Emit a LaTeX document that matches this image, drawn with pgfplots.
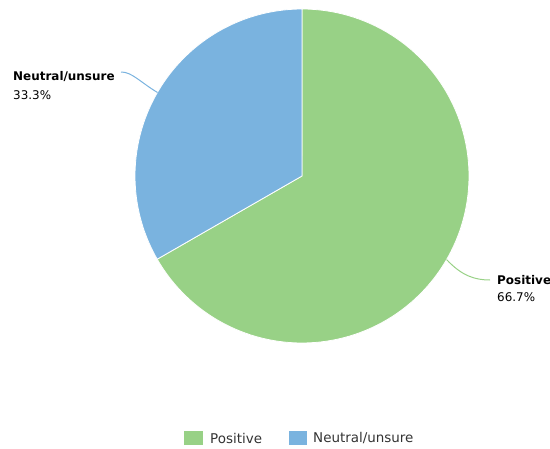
\documentclass[border=0pt]{standalone}
\usepackage{pgfplots}
\usepackage{pgfplotstable}
\pgfplotsset{compat=1.18}
\usepackage{fontspec}
\setmainfont{DejaVu Sans}
\definecolor{cpos}{HTML}{98D186}
\definecolor{cneu}{HTML}{7AB3DF}
\definecolor{ctext}{HTML}{333333}
\pgfplotstableread{
label value
Positive 66.7
Neutral 33.3
}\piedata
\begin{document}
\begin{tikzpicture}
\pgfplotstablegetelem{0}{value}\of\piedata \let\vpos\pgfplotsretval
\pgfplotstablegetelem{1}{value}\of\piedata \let\vneu\pgfplotsretval
\pgfmathsetmacro{\total}{\vpos+\vneu}
\pgfmathsetmacro{\fpos}{\vpos/\total}
\pgfmathsetmacro{\fneu}{\vneu/\total}
\pgfmathsetmacro{\aposend}{90-\fpos*360}
\pgfmathsetmacro{\aneuend}{\aposend-\fneu*360}
\def\cx{302}\def\cy{272}\def\r{167}
\begin{axis}[
  width=550bp, height=448bp, scale only axis,
  xmin=0, xmax=550, ymin=0, ymax=448,
  hide axis, clip=false,
]
\addplot[fill=cpos, draw=white, line width=0.8pt, domain=90:\aposend, samples=120, variable=\t]
  ({\cx+\r*cos(\t)},{\cy+\r*sin(\t)}) -- (axis cs:\cx,\cy) -- cycle;
\addplot[fill=cneu, draw=white, line width=0.8pt, domain=\aposend:\aneuend, samples=80, variable=\t]
  ({\cx+\r*cos(\t)},{\cy+\r*sin(\t)}) -- (axis cs:\cx,\cy) -- cycle;
% connectors
\draw[cneu, line width=1pt] (axis cs:157.5,355.5) .. controls (axis cs:140,366) and (axis cs:132,376) .. (axis cs:121,376);
\draw[cpos, line width=1pt] (axis cs:446.5,188.5) .. controls (axis cs:462,172) and (axis cs:475,168) .. (axis cs:490,168);
% data labels
\node[anchor=west, inner sep=0pt, font=\fontsize{12}{14}\selectfont\bfseries, text=black] at (axis cs:13,371) {Neutral/unsure};
\node[anchor=west, inner sep=0pt, font=\fontsize{12}{14}\selectfont, text=black] at (axis cs:13,353) {33.3\%};
\node[anchor=west, inner sep=0pt, font=\fontsize{12}{14}\selectfont\bfseries, text=black] at (axis cs:497,168) {Positive};
\node[anchor=west, inner sep=0pt, font=\fontsize{12}{14}\selectfont, text=black] at (axis cs:497,151) {66.7\%};
% legend
\fill[cpos] (axis cs:184,3) rectangle (axis cs:203,17);
\node[anchor=west, inner sep=0pt, font=\fontsize{13.5}{15}\selectfont, text=ctext] at (axis cs:210,10) {Positive};
\fill[cneu] (axis cs:289,3) rectangle (axis cs:307,17);
\node[anchor=west, inner sep=0pt, font=\fontsize{13.5}{15}\selectfont, text=ctext] at (axis cs:313,10) {Neutral/unsure};
\coordinate (bl) at (axis cs:0,0);
\coordinate (tr) at (axis cs:550,448);
\end{axis}
\pgfresetboundingbox
\path[use as bounding box] (bl) rectangle (tr);
\end{tikzpicture}
\end{document}
